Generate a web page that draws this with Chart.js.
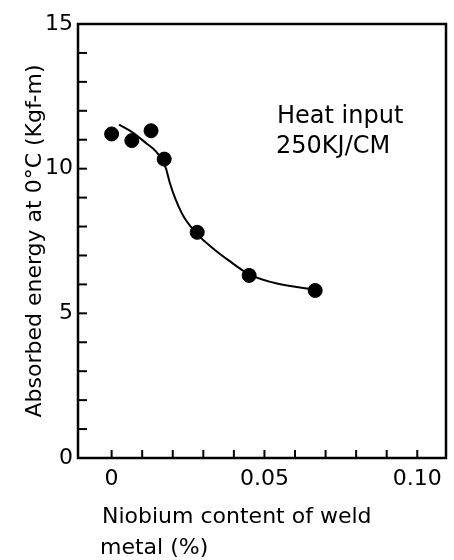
<!DOCTYPE html>
<html>
<head>
<meta charset="utf-8">
<script src="https://cdn.jsdelivr.net/npm/chart.js@4"></script>
<style>
html, body { margin: 0; padding: 0; background: #fff; }
#wrap { width: 454px; height: 560px; }
</style>
</head>
<body>
<div id="wrap"><canvas id="nbChart" width="454" height="560"></canvas></div>
<script>
// Measured points: niobium content (%) vs absorbed energy (kgf-m)
const nbContent = [0.000, 0.0066, 0.0129, 0.0172, 0.028, 0.045, 0.0666];
const absorbedEnergy = [11.2, 10.97, 11.31, 10.33, 7.8, 6.31, 5.79];

// Hand drawn trend curve
const curveNb = [0.0024, 0.0069, 0.0113, 0.0145, 0.0165, 0.0178, 0.019, 0.021, 0.0237, 0.028, 0.0329, 0.0383, 0.045, 0.0545, 0.0667];
const curveEnergy = [11.52, 11.25, 10.88, 10.6, 10.3, 10.0, 9.52, 8.92, 8.32, 7.74, 7.27, 6.83, 6.35, 6.02, 5.82];

// Axis ticks and labels
const xTickValues = [0, 0.01, 0.02, 0.03, 0.04, 0.05, 0.06, 0.07, 0.08, 0.09, 0.10];
const xTickLabels = ['0', '', '', '', '', '0.05', '', '', '', '', '0.10'];
const yTickValues = [0, 1, 2, 3, 4, 5, 6, 7, 8, 9, 10, 11, 12, 13, 14, 15];
const yTickLabels = ['0', '', '', '', '', '5', '', '', '', '', '10', '', '', '', '', '15'];

const annotationLines = ['Heat input', '250KJ/CM'];
const xTitleLines = ['Niobium content of weld', 'metal (%)'];
const yTitle = 'Absorbed energy at 0°C (Kgf-m)';

const FONT = '"DejaVu Sans", sans-serif';

// frame, inward ticks and free text
const framePlugin = {
    id: 'frame',
    afterDraw(chart) {
        const { ctx, chartArea: a, scales: { x, y } } = chart;
        ctx.save();
        ctx.strokeStyle = '#000';
        ctx.lineWidth = 2.5;
        ctx.strokeRect(a.left, a.top, a.right - a.left, a.bottom - a.top);

        ctx.lineWidth = 2;
        xTickValues.forEach(v => {
            const px = x.getPixelForValue(v);
            ctx.beginPath();
            ctx.moveTo(px, a.bottom);
            ctx.lineTo(px, a.bottom - 8);
            ctx.stroke();
        });
        yTickValues.forEach(v => {
            const py = y.getPixelForValue(v);
            ctx.beginPath();
            ctx.moveTo(a.left, py);
            ctx.lineTo(a.left + 9, py);
            ctx.stroke();
        });

        ctx.fillStyle = '#000';
        ctx.textAlign = 'left';
        ctx.textBaseline = 'alphabetic';
        ctx.font = '24px ' + FONT;
        ctx.fillText(annotationLines[0], 277, 123);
        ctx.fillText(annotationLines[1], 276, 153);

        ctx.font = '22px ' + FONT;
        ctx.fillText(xTitleLines[0], 102, 523);
        ctx.fillText(xTitleLines[1], 100, 554);
        ctx.restore();
    }
};

const ctx = document.getElementById('nbChart').getContext('2d');
const nbChart = new Chart(ctx, {
    type: 'scatter',
    data: {
        datasets: [{
            label: 'Trend',
            data: curveNb.map((v, i) => ({ x: v, y: curveEnergy[i] })),
            showLine: true,
            borderColor: '#000',
            borderWidth: 2,
            cubicInterpolationMode: 'monotone',
            pointRadius: 0,
            fill: false
        }, {
            label: 'Measured',
            data: nbContent.map((v, i) => ({ x: v, y: absorbedEnergy[i] })),
            backgroundColor: '#000',
            borderColor: '#000',
            pointRadius: 7,
            pointHoverRadius: 7
        }]
    },
    options: {
        responsive: false,
        animation: false,
        layout: { padding: { top: 24, right: 5, left: 0, bottom: 0 } },
        scales: {
            x: {
                type: 'linear',
                min: -0.011,
                max: 0.1094,
                afterBuildTicks: scale => { scale.ticks = xTickValues.map(v => ({ value: v })); },
                afterFit: scale => { scale.height = 102; },
                grid: { display: false, drawTicks: false },
                border: { display: false },
                ticks: {
                    autoSkip: false,
                    maxRotation: 0,
                    minRotation: 0,
                    padding: 8,
                    color: '#000',
                    font: { family: FONT, size: 22 },
                    callback: (val, i) => xTickLabels[i]
                }
            },
            y: {
                type: 'linear',
                min: 0,
                max: 15,
                afterBuildTicks: scale => { scale.ticks = yTickValues.map(v => ({ value: v })); },
                afterFit: scale => { scale.width = 78; },
                grid: { display: false, drawTicks: false },
                border: { display: false },
                ticks: {
                    autoSkip: false,
                    padding: 5,
                    color: '#000',
                    font: { family: FONT, size: 22 },
                    callback: (val, i) => yTickLabels[i]
                },
                title: {
                    display: true,
                    text: yTitle,
                    color: '#000',
                    font: { family: FONT, size: 22 },
                    padding: { top: 22, bottom: 0 }
                }
            }
        },
        plugins: {
            legend: { display: false },
            tooltip: { enabled: false }
        }
    },
    plugins: [framePlugin]
});
</script>
</body>
</html>
